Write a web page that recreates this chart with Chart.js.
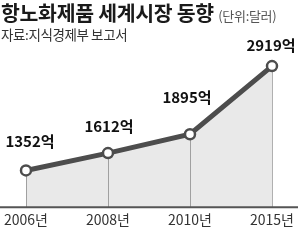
<!DOCTYPE html>
<html>
<head>
<meta charset="utf-8">
<script src="https://cdn.jsdelivr.net/npm/chart.js@4/dist/chart.umd.min.js"></script>
<style>
  html, body { margin: 0; padding: 0; background: #fff; }
  #wrap { position: relative; width: 300px; height: 240px; font-family: "Noto Sans CJK KR", sans-serif; }
  #titulo { position: absolute; left: 1px; top: -3px; font-size: 20.5px; font-weight: bold; color: #1a1a1a; letter-spacing: -0.3px; white-space: nowrap; }
  #titulo span { font-size: 13px; font-weight: normal; color: #555; letter-spacing: -0.3px; }
  #fuente { position: absolute; left: 1px; top: 24px; font-size: 13.5px; color: #333; letter-spacing: -0.4px; white-space: nowrap; }
  canvas { position: absolute; left: 0; top: 0; }
</style>
</head>
<body>
<div id="wrap">
  <canvas id="grafica" width="300" height="240"></canvas>
  <div id="titulo">항노화제품 세계시장 동향 <span>(단위:달러)</span></div>
  <div id="fuente">자료:지식경제부 보고서</div>
</div>
<script>
const etiquetas = ["2006년", "2008년", "2010년", "2015년"];
const valores = [1352, 1612, 1895, 2919];
const etiquetasValor = ["1352억", "1612억", "1895억", "2919억"];

// desplazamiento de cada etiqueta respecto a su punto
const desplazamientos = [[4, -29], [1, -27], [-3, -37], [-1, -21]];

const lineasYTextos = {
    id: 'lineasYTextos',
    beforeDatasetsDraw(chart) {
        // lineas verticales desde el punto hasta la base
        const ctx = chart.ctx;
        const area = chart.chartArea;
        const puntos = chart.getDatasetMeta(0).data;
        ctx.save();
        ctx.strokeStyle = '#b0b0b0';
        ctx.lineWidth = 1;
        puntos.forEach(function (p) {
            ctx.beginPath();
            ctx.moveTo(Math.round(p.x) + 0.5, p.y);
            ctx.lineTo(Math.round(p.x) + 0.5, area.bottom);
            ctx.stroke();
        });
        ctx.restore();
    },
    afterDatasetsDraw(chart) {
        const ctx = chart.ctx;
        const area = chart.chartArea;
        const puntos = chart.getDatasetMeta(0).data;
        ctx.save();
        // linea base
        ctx.strokeStyle = '#555';
        ctx.lineWidth = 2;
        ctx.beginPath();
        ctx.moveTo(0, area.bottom);
        ctx.lineTo(298, area.bottom);
        ctx.stroke();
        // etiquetas de valor
        ctx.fillStyle = '#111';
        ctx.font = 'bold 15px "Noto Sans CJK KR", sans-serif';
        ctx.textAlign = 'center';
        ctx.textBaseline = 'middle';
        puntos.forEach(function (p, i) {
            ctx.fillText(etiquetasValor[i], p.x + desplazamientos[i][0], p.y + desplazamientos[i][1]);
        });
        ctx.restore();
    }
};

new Chart(document.querySelector("#grafica"), {
    type: 'line',
    data: {
        labels: etiquetas,
        datasets: [{
            data: valores,
            borderColor: '#4d4d4d',
            borderWidth: 5,
            backgroundColor: 'rgba(0,0,0,0.085)',
            fill: 'start',
            tension: 0,
            pointRadius: 5,
            pointBackgroundColor: '#fff',
            pointBorderColor: '#4d4d4d',
            pointBorderWidth: 2.5
        }]
    },
    options: {
        responsive: false,
        animation: false,
        events: [],
        layout: { padding: { left: 23, right: 28, top: 54, bottom: 8 } },
        plugins: {
            legend: { display: false },
            tooltip: { enabled: false }
        },
        scales: {
            x: {
                offset: false,
                grid: { display: false, drawTicks: false },
                border: { display: false },
                ticks: {
                    padding: 4,
                    color: '#333',
                    font: { family: '"Noto Sans CJK KR", sans-serif', size: 14 },
                    maxRotation: 0,
                    autoSkip: false
                }
            },
            y: {
                display: false,
                min: 800,
                max: 3100
            }
        }
    },
    plugins: [lineasYTextos]
});
</script>
</body>
</html>
